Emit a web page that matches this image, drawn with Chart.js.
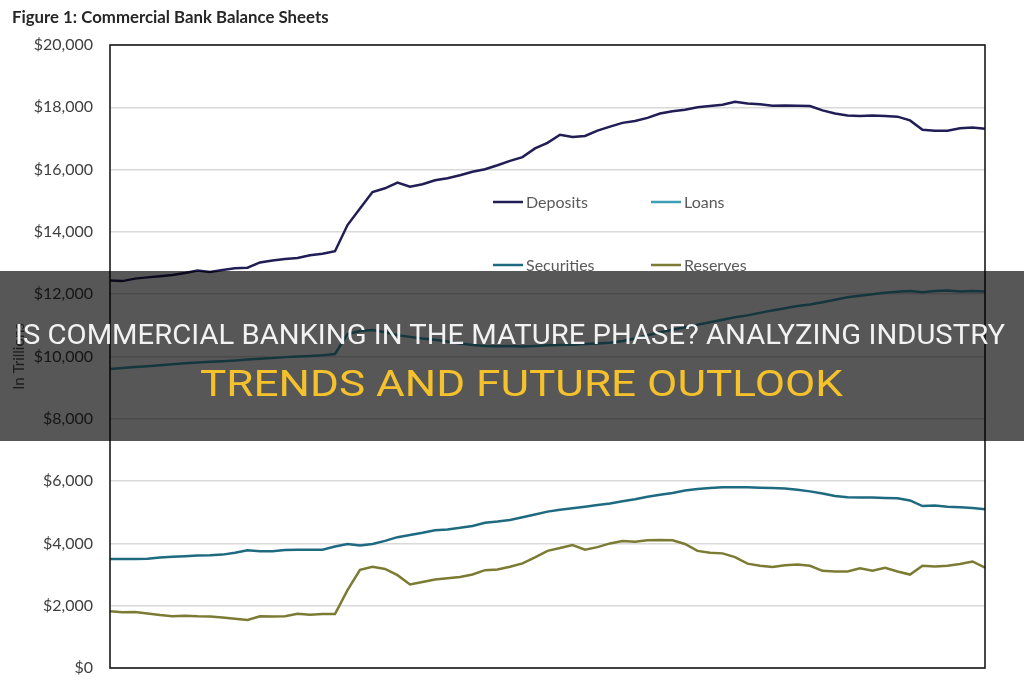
<!DOCTYPE html>
<html>
<head>
<meta charset="utf-8">
<script src="https://cdn.jsdelivr.net/npm/chart.js@4.4.0/dist/chart.umd.min.js"></script>
<style>
  html, body { margin:0; padding:0; background:#fff; }
  #wrap { position:relative; width:1024px; height:680px; overflow:hidden; }
  #chart { position:absolute; left:0; top:0; }
  #banner { position:absolute; left:0; top:271px; width:1024px; height:170px; background:rgba(0,0,0,0.66); }
  .bline { position:absolute; white-space:nowrap; font-family:Roboto, sans-serif; line-height:1; transform-origin:0 0; }
</style>
</head>
<body>
<div id="wrap">
  <canvas id="chart" width="1024" height="680"></canvas>
  <div id="banner">
    <span class="bline" id="b1" style="font-size:27.5px;color:#f2f2f2;top:50px;">IS COMMERCIAL BANKING IN THE MATURE PHASE? ANALYZING INDUSTRY</span>
    <span class="bline" id="b2" style="font-size:36px;color:#f5c22b;top:95px;">TRENDS AND FUTURE OUTLOOK</span>
  </div>
</div>
<script>
'use strict';

// values in $ billions (weekly-ish points, left to right)
let deposits=[12440,12420,12500,12540,12580,12620,12680,12760,12710,12780,12830,12850,13020,13080,13130,13160,13250,13300,13380,14220,
  14750,15280,15400,15580,15450,15530,15660,15720,15820,15930,16010,16140,16280,16400,16680,16860,17120,17050,17080,17250,
  17380,17500,17560,17660,17800,17870,17920,18000,18040,18080,18180,18120,18100,18050,18060,18050,18040,17900,17800,17740,
  17720,17740,17720,17700,17580,17280,17250,17250,17330,17350,17310];
let loans=[9600,9630,9660,9690,9720,9750,9780,9810,9830,9850,9870,9900,9930,9950,9980,10000,10020,10040,10080,10720,
  10820,10850,10780,10680,10630,10580,10540,10480,10420,10370,10340,10330,10340,10320,10340,10360,10370,10380,10400,10420,
  10440,10500,10580,10680,10780,10860,10940,11020,11100,11180,11260,11320,11400,11480,11550,11620,11670,11740,11820,11900,
  11950,12000,12050,12080,12100,12060,12100,12120,12090,12100,12090];
let securities=[3500,3500,3500,3510,3550,3570,3590,3610,3620,3640,3700,3780,3750,3750,3790,3800,3800,3800,3900,3980,
  3930,3980,4080,4200,4270,4340,4420,4450,4500,4560,4660,4700,4750,4840,4930,5020,5080,5130,5180,5230,
  5280,5350,5420,5500,5560,5620,5700,5750,5780,5800,5800,5800,5790,5780,5760,5720,5670,5600,5520,5480,
  5470,5470,5460,5450,5380,5200,5220,5180,5160,5140,5100];
let reserves=[1820,1790,1800,1750,1700,1660,1680,1660,1650,1620,1580,1540,1660,1650,1660,1740,1710,1730,1730,2500,
  3150,3250,3180,2980,2680,2760,2840,2880,2920,3000,3140,3160,3250,3360,3550,3760,3850,3950,3800,3880,
  4000,4080,4050,4100,4110,4100,3980,3760,3700,3680,3560,3350,3280,3240,3300,3320,3280,3120,3100,3100,
  3200,3120,3220,3100,3000,3280,3260,3280,3340,3420,3220];
let weeks=deposits.map((v,i)=>'w'+(i+1));
let seriesNames=['Deposits','Loans','Securities','Reserves'];
let seriesColors=['#211d55','#3d9fb3','#1e6a80','#7b7b33'];
let yTicks=[0,2000,4000,6000,8000,10000,12000,14000,16000,18000,20000];

const plotFrame={
  id:'plotFrame',
  afterDraw(chart){
    const ctx=chart.ctx, a=chart.chartArea;
    ctx.save();
    ctx.strokeStyle='#1a1a1a';
    ctx.lineWidth=1.6;
    ctx.strokeRect(a.left,a.top,a.right-a.left,a.bottom-a.top);
    ctx.restore();
  }
};

const insideLegend={
  id:'insideLegend',
  afterDraw(chart){
    const ctx=chart.ctx;
    const spots=[[493,202],[651,202],[493,265],[651,265]];
    ctx.save();
    ctx.font='16px Lato';
    ctx.textBaseline='middle';
    chart.data.datasets.forEach((ds,i)=>{
      let p=spots[i];
      ctx.strokeStyle=ds.borderColor;
      ctx.lineWidth=2.5;
      ctx.beginPath();
      ctx.moveTo(p[0],p[1]);
      ctx.lineTo(p[0]+30,p[1]);
      ctx.stroke();
      ctx.fillStyle='#595959';
      ctx.fillText(ds.label,p[0]+33,p[1]+1);
    });
    ctx.restore();
  }
};

const figTitle={
  id:'figTitle',
  afterDraw(chart){
    const ctx=chart.ctx;
    ctx.save();
    ctx.font='bold 16.8px Lato';
    ctx.fillStyle='#262626';
    ctx.textBaseline='alphabetic';
    ctx.fillText('Figure 1: Commercial Bank Balance Sheets',12,23);
    ctx.restore();
  }
};

const data={
  labels:weeks,
  datasets:[deposits,loans,securities,reserves].map((d,i)=>({
    label:seriesNames[i],
    data:d,
    borderColor:seriesColors[i],
    backgroundColor:seriesColors[i],
    borderWidth:2.5,
    pointRadius:0,
    tension:0
  }))
};

const config={
  type:'line',
  data:data,
  options:{
    responsive:false,
    animation:false,
    layout:{padding:{left:10,right:39,top:45,bottom:12}},
    plugins:{legend:{display:false},tooltip:{enabled:false}},
    scales:{
      x:{display:false},
      y:{
        min:0,max:20000,
        afterFit(scale){scale.width=100;},
        afterBuildTicks(scale){scale.ticks=yTicks.map(v=>({value:v}));},
        border:{display:false},
        // invisible tick marks give the gap between labels and the plot box
        grid:{color:'#d9d9d9',lineWidth:1.5,drawTicks:true,tickLength:17,tickColor:'rgba(0,0,0,0)'},
        ticks:{
          padding:0,
          color:'#404040',
          font:{family:'Lato',size:16},
          callback:v=>'$'+v.toLocaleString('en-US')
        },
        title:{display:true,text:'In Trillions',color:'#595959',font:{family:'Lato',size:15},padding:{top:0,bottom:0}}
      }
    }
  },
  plugins:[plotFrame,insideLegend,figTitle]
};

const myChart=new Chart(document.getElementById('chart'),config);

// squeeze the banner lines to the widths they have in the picture
function fitLine(id,left,width){
  let el=document.getElementById(id);
  let w=el.getBoundingClientRect().width;
  el.style.left=left+'px';
  el.style.transform='scaleX('+(width/w)+')';
}
fitLine('b1',15,990);
fitLine('b2',200,643);
</script>
</body>
</html>
